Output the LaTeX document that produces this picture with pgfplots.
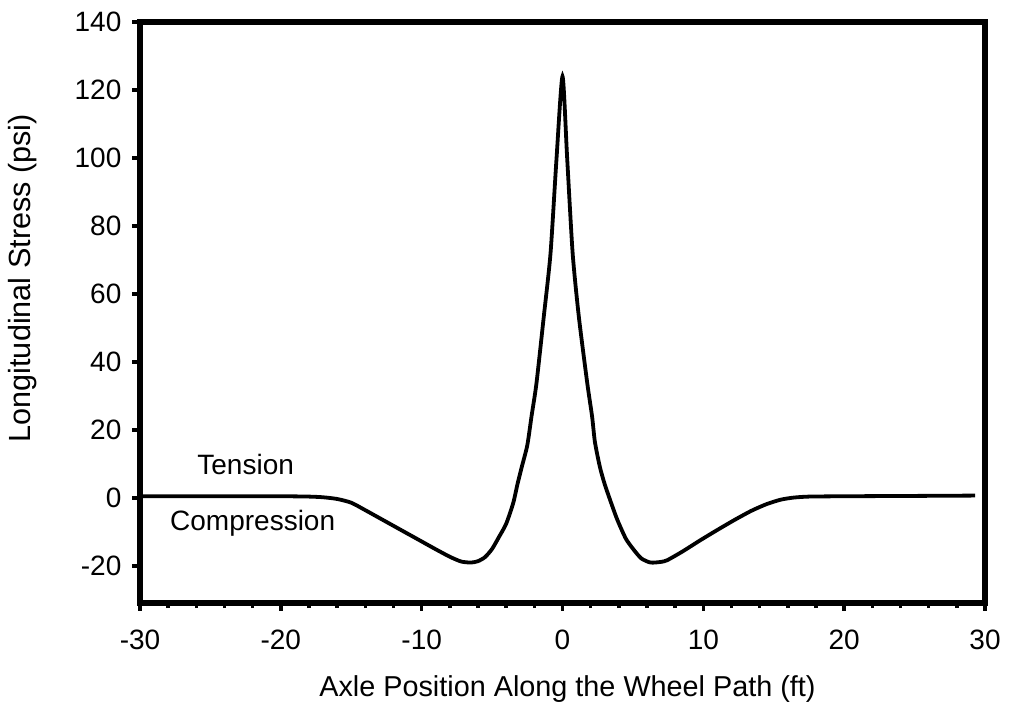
\documentclass[border=0pt]{standalone}
\usepackage{pgfplots}
\pgfplotsset{compat=1.18}
\usepackage{fontspec}
\setmainfont{Liberation Sans}
\begin{document}
\begin{tikzpicture}
\useasboundingbox (-70pt,-52pt) rectangle (435pt,301.5pt);
\begin{axis}[
  at={(0,0)}, anchor=south west,
  scale only axis,
  width=422.5pt, height=290.5pt,
  xmin=-30, xmax=30, ymin=-30.9, ymax=140,
  xtick={-30,-20,...,30}, ytick={-20,0,...,140},
  minor xtick={-28,-26,...,28},
  tick align=outside,
  xtick pos=bottom, ytick pos=left,
  axis line style={line width=3pt},
  major tick length=3.8pt, minor tick length=2.6pt,
  every tick/.style={black, line width=1.8pt},
  /pgf/number format/assume math mode=true,
  tick label style={font=\fontsize{14}{17}\selectfont},
  xticklabel style={yshift=-6pt},
  yticklabel style={xshift=-2pt},
  xlabel={Axle Position Along the Wheel Path (ft)},
  ylabel={Longitudinal Stress (psi)},
  xlabel style={font=\fontsize{14.4}{17}\selectfont, yshift=-6pt, xshift=2.5pt},
  ylabel style={font=\fontsize{15.3}{18}\selectfont, at={(axis description cs:-0.139,0.559)}, anchor=center},
  clip=false,
]
\addplot[black, line width=1.9pt, smooth, tension=0.4] coordinates {
(-30,0.5) (-25,0.5) (-20,0.5) (-18,0.4) (-17,0.2) (-16,-0.3) (-15,-1.4)
(-14,-3.6) (-13,-5.9) (-12,-8.2) (-11,-10.5) (-10,-12.8) (-9,-15.1)
(-8,-17.3) (-7.2,-18.7) (-6.5,-19) (-6,-18.6) (-5.5,-17.4) (-5,-15)
(-4.5,-11.4) (-4,-7.6) (-3.5,-1.5) (-3.2,4) (-2.9,9) (-2.5,15.5)
(-2.2,24) (-1.85,33.7) (-1.33,53.3) (-0.85,72) (-0.43,99.5) (0,124)
(0.33,100) (0.72,72) (1.16,53.3) (1.76,33.7) (2.1,24) (2.3,16.5)
(2.65,9.2) (3,4) (3.5,-2) (3.9,-6.5) (4.5,-12) (5.07,-15.3) (5.6,-17.8)
(6.25,-19) (7,-18.8) (7.44,-18.3) (8.5,-15.8) (9.8,-12.4) (11,-9.4)
(12.2,-6.5) (13.4,-3.8) (14.5,-1.8) (15.5,-0.5) (16.4,0.1) (17.5,0.4)
(20,0.5) (25,0.6) (29.3,0.7)
};
\node[font=\fontsize{14}{17}\selectfont] at (axis cs:-22.5,9.7) {Tension};
\node[font=\fontsize{14}{17}\selectfont] at (axis cs:-22.0,-7.4) {Compression};
\end{axis}
\end{tikzpicture}
\end{document}
